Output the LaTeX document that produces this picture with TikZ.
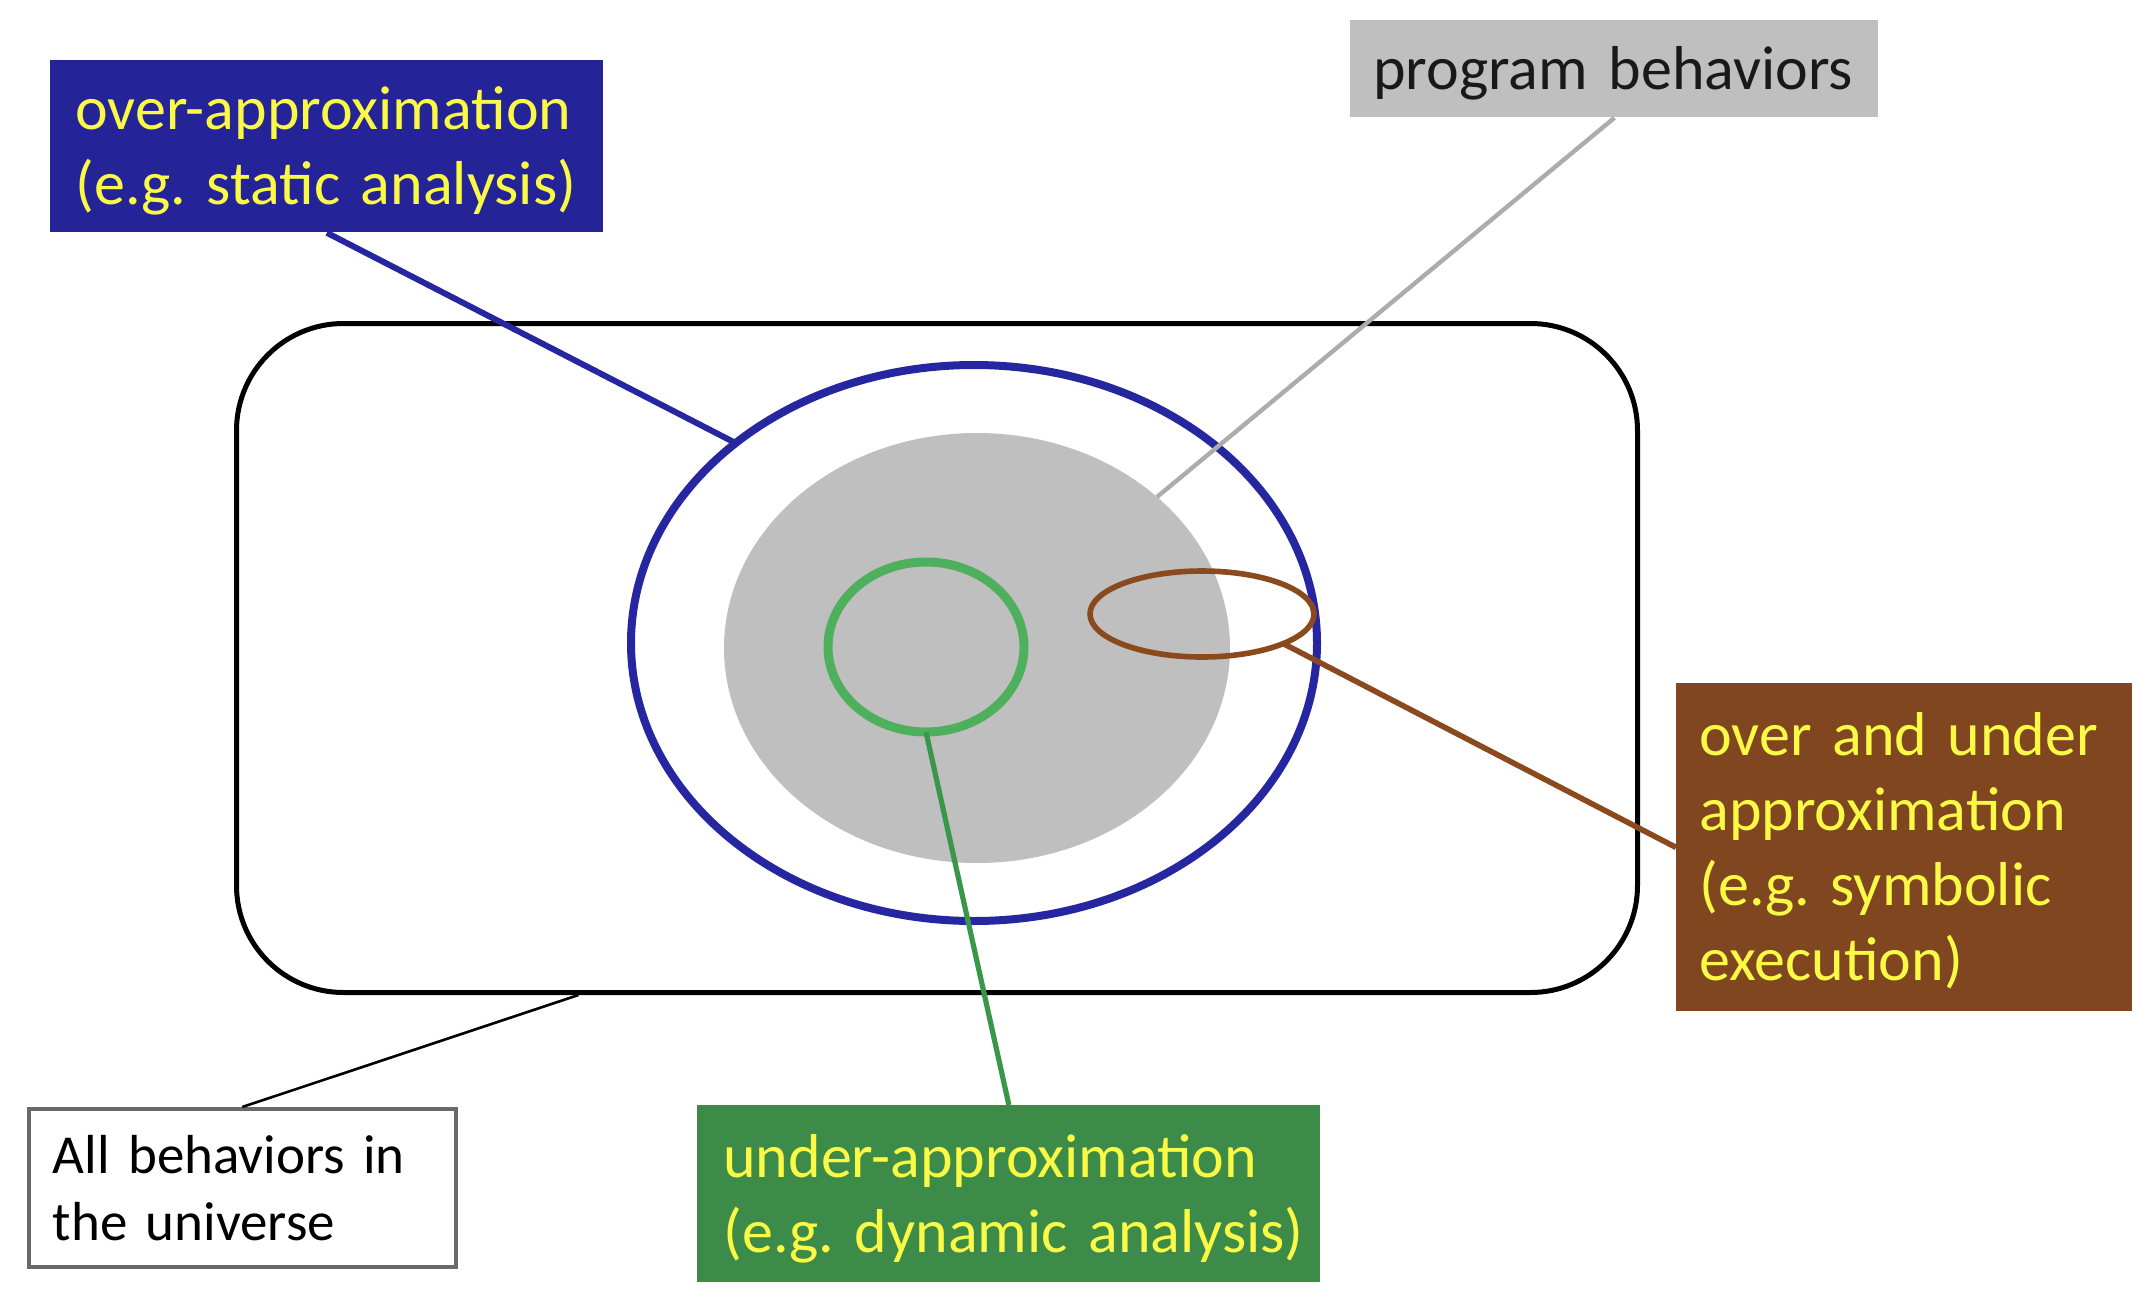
\documentclass[tikz,border=0pt]{standalone}
\usepackage{fontspec}
\setmainfont{Carlito}
\usetikzlibrary{shapes.geometric,calc}
\definecolor{bluebox}{RGB}{36,36,152}
\definecolor{blueline}{RGB}{38,38,160}
\definecolor{yellowt}{RGB}{250,250,70}
\definecolor{greenbox}{RGB}{60,139,72}
\definecolor{greencirc}{RGB}{78,176,92}
\definecolor{greenline}{RGB}{58,150,74}
\definecolor{brownbox}{RGB}{128,70,32}
\definecolor{brownline}{RGB}{139,74,30}
\definecolor{grayfill}{RGB}{191,191,191}
\definecolor{grayline}{RGB}{172,172,172}
\definecolor{darkborder}{RGB}{105,105,105}
\definecolor{darktext}{RGB}{25,25,25}
\newcommand{\lines}[1]{\raisebox{-3pt}[\height][\depth]{\begin{tabular}{@{}l@{}}#1\end{tabular}}}
\tikzset{
  labelbox/.style={rectangle, anchor=north west, inner ysep=0pt, align=left,
    font=\fontsize{31}{37.5}\selectfont\frenchspacing, text=yellowt},
  blob/.style={ellipse, inner sep=0pt, outer sep=0pt},
}
\begin{document}
\begin{tikzpicture}[x=0.5pt,y=-0.5pt]
\useasboundingbox (0,0) rectangle (2138,1302);
% universe
\node[rectangle, draw=black, line width=2.5pt, rounded corners=53.5pt,
  minimum width=700.5pt, minimum height=334.5pt, inner sep=0pt] (univ) at (937,658) {};
% over-approximation ellipse
\node[blob, draw=blueline, line width=4pt, minimum width=343pt, minimum height=278pt] (over) at (974,643) {};
% program behaviors
\node[blob, fill=grayfill, minimum width=253pt, minimum height=215pt] (prog) at (977,648) {};
% under-approximation
\node[blob, draw=greencirc, line width=4.5pt, minimum width=98pt, minimum height=85pt] (under) at (926,647) {};
% over and under
\node[blob, draw=brownline, line width=2.8pt, minimum width=112pt, minimum height=43pt] (both) at (1202,614) {};

% label boxes
\node[labelbox, fill=bluebox, inner xsep=12.5pt, text width=251.5pt,
  minimum width=276.5pt, minimum height=86pt] (overlbl) at (50,60)
  {\lines{over-approximation\\(e.g. static analysis)}};
\node[labelbox, fill=grayfill, text=darktext, inner xsep=11.5pt, text width=241pt,
  minimum width=264pt, minimum height=48.5pt] (proglbl) at (1350,20)
  {\lines{program behaviors}};
\node[labelbox, fill=brownbox, inner xsep=11.5pt, text width=205pt,
  minimum width=228pt, minimum height=164pt] (bothlbl) at (1676,683)
  {\lines{over and under\\approximation\\(e.g. symbolic\\execution)}};
\node[labelbox, fill=greenbox, inner xsep=13pt, text width=285.5pt,
  minimum width=311.5pt, minimum height=88.5pt] (underlbl) at (697,1105)
  {\lines{under-approximation\\(e.g. dynamic analysis)}};
\node[labelbox, draw=darkborder, line width=1.8pt, text=black, inner xsep=12pt,
  text width=189.5pt, minimum width=213.5pt, minimum height=79pt,
  font=\fontsize{27.5}{33.5}\selectfont] (univlbl) at (27,1107)
  {\lines{All behaviors in\\the universe}};

% connectors
\coordinate (univpt) at ($(univ.south west)!0.245!(univ.south east)$);
\draw[black, line width=1.3pt] (univlbl.north) -- (univpt);
\draw[blueline, line width=3pt] (overlbl.south) -- (over.140.8);
\draw[grayline, line width=2.2pt] (proglbl.south) -- (prog.40);
\draw[greenline, line width=2.6pt] (under.270) -- (underlbl.north);
\draw[brownline, line width=2.8pt] (both.-20) -- (bothlbl.west);
\end{tikzpicture}
\end{document}
